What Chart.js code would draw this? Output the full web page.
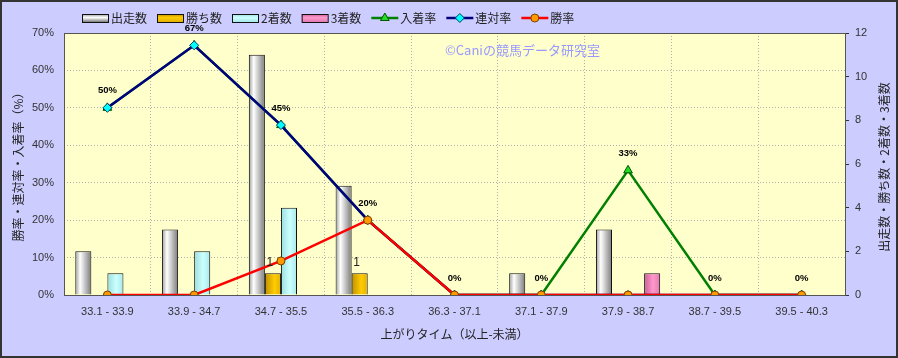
<!DOCTYPE html>
<html>
<head>
<meta charset="utf-8">
<script src="https://cdn.jsdelivr.net/npm/chart.js@4.4.1/dist/chart.umd.min.js"></script>
<style>
  html, body { margin: 0; padding: 0; background: #ccccff; }
  #wrap { width: 898px; height: 358px; position: relative; }
</style>
</head>
<body>
<div id="wrap"><canvas id="chart"></canvas></div>
<script>
// ── data ─────────────────────────────────────────────────────────────────────
const CATEGORIES = ['33.1 - 33.9', '33.9 - 34.7', '34.7 - 35.5', '35.5 - 36.3', '36.3 - 37.1',
                    '37.1 - 37.9', '37.9 - 38.7', '38.7 - 39.5', '39.5 - 40.3'];
const STARTS    = [2, 3, 11, 5, 0, 1, 3, 0, 0];   // 出走数
const WINS      = [0, 0, 1, 1, 0, 0, 0, 0, 0];    // 勝ち数
const SECONDS   = [1, 2, 4, 0, 0, 0, 0, 0, 0];    // 2着数
const THIRDS    = [0, 0, 0, 0, 0, 0, 1, 0, 0];    // 3着数
const PLACE_RATE    = [50, 66.7, 45.4, 20, 0, 0, 33.3, 0, 0];  // 入着率
const QUINELLA_RATE = [50, 66.7, 45.4, 20, 0, 0, 0, 0, 0];     // 連対率
const WIN_RATE      = [0, 0, 9.1, 20, 0, 0, 0, 0, 0];          // 勝率

const FONT = '"Liberation Sans", "Noto Sans CJK JP", sans-serif';
const JP_FONT = '"Noto Sans CJK JP", sans-serif';
const CAT_PCT = 0.74;

// bar fill stops (horizontal cylinder look)
const GRAY_STOPS = [[0, '#9a9a9a'], [0.3, '#ffffff'], [1, '#7a7a7a']];
const GOLD_STOPS = [[0, '#c08f00'], [0.6, '#ffcc00'], [1, '#e0b000']];
const CYAN_STOPS = [[0, '#99dede'], [0.55, '#ccffff'], [1, '#a8e8e8']];
const PINK_STOPS = [[0, '#c85c96'], [0.55, '#ff99cc'], [1, '#e07ab0']];

function barFill(stops, k) {
  return (c) => {
    const area = c.chart.chartArea;
    if (!area || c.dataIndex === undefined) return stops[1][1];
    const cw = (area.right - area.left) / CATEGORIES.length;
    const bw = cw * CAT_PCT / 4;
    const left = c.chart.scales.x.getPixelForValue(c.dataIndex) - cw * CAT_PCT / 2 + k * bw;
    const g = c.chart.ctx.createLinearGradient(left, 0, left + bw, 0);
    stops.forEach(([o, col]) => g.addColorStop(o, col));
    return g;
  };
}

function barSet(label, data, stops, k) {
  return {
    type: 'bar', label, data, yAxisID: 'y2', order: 10,
    backgroundColor: barFill(stops, k),
    borderColor: '#111',
    borderWidth: (c) => (c.raw ? 1 : 0),
    categoryPercentage: CAT_PCT, barPercentage: 1,
    _stops: stops,
  };
}

function lineSet(label, data, color, style, fill, edge, radius, order) {
  return {
    type: 'line', label, data, yAxisID: 'y', order,
    borderColor: color, borderWidth: 2.5, tension: 0,
    pointStyle: style, pointRadius: radius, pointBackgroundColor: fill,
    pointBorderColor: edge, pointBorderWidth: 1,
  };
}

// ── plugins ──────────────────────────────────────────────────────────────────
const backdrop = {
  id: 'backdrop',
  beforeDraw(chart) {
    const { ctx, chartArea: a } = chart;
    ctx.save();
    ctx.fillStyle = '#ccccff';
    ctx.fillRect(0, 0, chart.width, chart.height);
    ctx.fillStyle = '#ffffcc';
    ctx.fillRect(a.left, a.top, a.right - a.left, a.bottom - a.top);
    ctx.restore();
  },
  beforeDatasetsDraw(chart) {
    const { ctx, chartArea: a } = chart;
    ctx.save();
    ctx.font = '13px ' + JP_FONT;
    ctx.fillStyle = '#9999ff';
    ctx.textBaseline = 'middle';
    ctx.fillText('©Caniの競馬データ研究室', 445, 50);
    ctx.strokeStyle = '#555';
    ctx.lineWidth = 1;
    ctx.strokeRect(Math.round(a.left) + 0.5, Math.round(a.top) + 0.5,
                   Math.round(a.right - a.left), Math.round(a.bottom - a.top));
    // right axis title, reading bottom to top like the left one
    ctx.translate(884, (a.top + a.bottom) / 2 + 3);
    ctx.rotate(-Math.PI / 2);
    ctx.font = '12px ' + JP_FONT;
    ctx.fillStyle = '#222';
    ctx.textAlign = 'center';
    ctx.fillText('出走数・勝ち数・2着数・3着数', 0, 0);
    ctx.restore();
  },
  afterDatasetsDraw(chart) {
    const { ctx } = chart;
    ctx.save();
    ctx.textAlign = 'center';
    ctx.textBaseline = 'middle';
    // rate labels above 入着率 points
    const place = chart.getDatasetMeta(4);
    ctx.font = 'bold 9.5px ' + FONT;
    ctx.fillStyle = '#000';
    place.data.forEach((pt, i) => {
      ctx.fillText(Math.round(PLACE_RATE[i]) + '%', pt.x, pt.y - 17);
    });
    // win-count labels above 勝ち数 bars
    const wins = chart.getDatasetMeta(1);
    ctx.font = '12px ' + FONT;
    ctx.fillStyle = '#222';
    wins.data.forEach((bar, i) => {
      if (WINS[i]) ctx.fillText(String(WINS[i]), bar.x - 3, bar.y - 10);
    });
    ctx.restore();
  },
  afterDraw(chart) {
    const { ctx } = chart;
    ctx.save();
    // legend
    let x = 82;
    const y = 18;
    ctx.font = '12px ' + JP_FONT;
    ctx.textBaseline = 'middle';
    chart.data.datasets.forEach((ds) => {
      if (ds.type === 'bar') {
        const g = ctx.createLinearGradient(0, y - 4, 0, y + 4);
        g.addColorStop(0, ds._stops[0][1]);
        g.addColorStop(0.45, ds._stops[1][1]);
        g.addColorStop(1, ds._stops[2][1]);
        ctx.fillStyle = g;
        ctx.fillRect(x, y - 4, 26, 8);
        ctx.strokeStyle = '#111';
        ctx.lineWidth = 1;
        ctx.strokeRect(x + 0.5, y - 3.5, 26, 8);
      } else {
        ctx.strokeStyle = ds.borderColor;
        ctx.lineWidth = 2.5;
        ctx.beginPath();
        ctx.moveTo(x, y);
        ctx.lineTo(x + 27, y);
        ctx.stroke();
        ctx.fillStyle = ds.pointBackgroundColor;
        ctx.strokeStyle = ds.pointBorderColor;
        ctx.lineWidth = 1;
        Chart.helpers.drawPoint(ctx, { pointStyle: ds.pointStyle, radius: ds.pointRadius, borderWidth: 1 }, x + 13.5, y);
      }
      x += 29;
      ctx.fillStyle = '#222';
      ctx.fillText(ds.label, x, y);
      x += ctx.measureText(ds.label).width + 10;
    });
    // outer frame
    ctx.strokeStyle = '#333';
    ctx.lineWidth = 2;
    ctx.strokeRect(1, 1, chart.width - 2, chart.height - 2);
    ctx.restore();
  }
};

// ── chart ────────────────────────────────────────────────────────────────────
const ctx = document.getElementById('chart').getContext('2d');
const chart = new Chart(ctx, {
  type: 'bar',
  data: {
    labels: CATEGORIES,
    datasets: [
      barSet('出走数', STARTS, GRAY_STOPS, 0),
      barSet('勝ち数', WINS, GOLD_STOPS, 1),
      barSet('2着数', SECONDS, CYAN_STOPS, 2),
      barSet('3着数', THIRDS, PINK_STOPS, 3),
      lineSet('入着率', PLACE_RATE, '#008000', 'triangle', '#22dd22', '#005500', 5, 3),
      lineSet('連対率', QUINELLA_RATE, '#000080', 'rectRot', '#00ffff', '#004060', 4.5, 2),
      lineSet('勝率', WIN_RATE, '#ff0000', 'circle', '#ff9900', '#7a4000', 4, 1),
    ]
  },
  options: {
    responsive: true,
    maintainAspectRatio: false,
    animation: false,
    layout: { padding: { top: 33, left: 0, right: 0, bottom: 0 } },
    plugins: { legend: { display: false }, tooltip: { enabled: false } },
    scales: {
      x: {
        offset: true,
        grid: { offset: true, color: '#b0b0b0', drawTicks: false },
        border: { display: false, dash: [1, 2] },
        ticks: { color: '#333', font: { size: 11, family: FONT }, padding: 10, maxRotation: 0 },
        title: { display: true, text: '上がりタイム（以上-未満）', color: '#222',
                 font: { size: 12, family: JP_FONT }, padding: { top: 0, bottom: 16 } },
        afterFit: (s) => { s.height = 63; }
      },
      y: {
        position: 'left', min: 0, max: 70,
        grid: { color: '#b0b0b0', drawTicks: false },
        border: { display: false, dash: [1, 2] },
        ticks: { stepSize: 10, color: '#333', padding: 10, font: { size: 11, family: FONT },
                 callback: (v) => v + '%' },
        title: { display: true, text: '勝率・連対率・入着率（%）', color: '#222',
                 font: { size: 12, family: JP_FONT }, padding: { top: 11, bottom: 0 } },
        afterFit: (s) => { s.width = 64; }
      },
      y2: {
        position: 'right', min: 0, max: 12,
        grid: { drawOnChartArea: false, color: '#333', tickLength: 4 },
        border: { display: false },
        ticks: { stepSize: 2, color: '#333', padding: 6, font: { size: 11, family: FONT } },
        title: { display: false },
        afterFit: (s) => { s.width = 53; }
      }
    }
  },
  plugins: [backdrop]
});
</script>
</body>
</html>
